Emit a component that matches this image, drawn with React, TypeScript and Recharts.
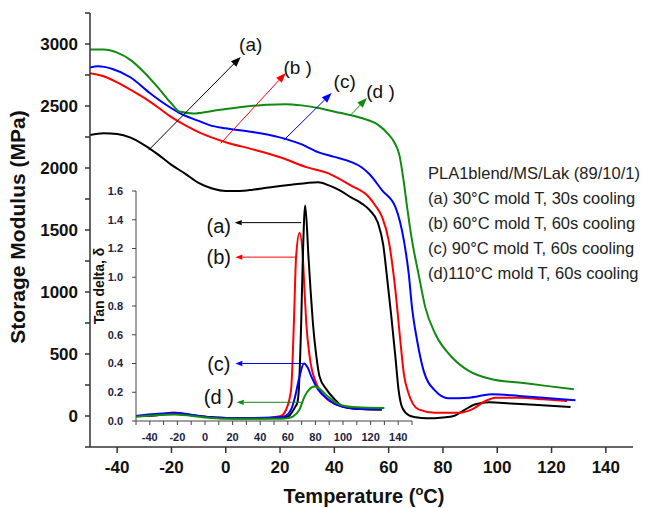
import React from 'react';
import { LineChart, Line, XAxis, YAxis, ReferenceLine, ReferenceDot } from 'recharts';

// storage modulus (MPa) vs temperature (°C)
const tempA = [-50, -45, -40, -35, -30, -25, -20, -15, -10, -5, 0, 5, 10, 15, 20, 25, 30, 34, 38, 42, 46, 50, 53, 56, 58, 59.5, 61, 62.5, 63.7, 65, 67.5, 70, 74, 80, 84, 88, 92, 97, 105, 115, 127];
const modA = [2265, 2280, 2275, 2245, 2185, 2110, 2025, 1955, 1880, 1835, 1815, 1815, 1825, 1840, 1855, 1868, 1880, 1885, 1860, 1820, 1765, 1715, 1660, 1560, 1380, 1100, 800, 472, 202, 67, 5, -10, -19, -12, 0, 50, 95, 110, 100, 88, 73];

const tempB = [-50, -45, -40, -35, -30, -25, -20, -15, -10, -5, 0, 10, 20, 30, 38, 46, 52.7, 55, 57.6, 60, 62.5, 64.3, 65.6, 67.4, 71, 77, 86, 90.7, 95.7, 99.3, 108, 117, 125.7];
const modB = [2765, 2740, 2690, 2630, 2565, 2490, 2410, 2345, 2290, 2245, 2208, 2150, 2087, 2005, 1955, 1860, 1766, 1700, 1604, 1416, 1011, 607, 340, 178, 54, 27, 27, 54, 121, 148, 148, 135, 121];

const tempC = [-50, -47, -42, -35, -28, -22, -17, -10, -6, 0, 10, 19.5, 28, 34, 40, 46, 50, 52.7, 57.6, 62.5, 65.6, 67.4, 68.6, 70.5, 72.9, 77.2, 82, 89.5, 98, 108, 118, 128.8];
const modC = [2810, 2820, 2800, 2730, 2605, 2510, 2443, 2380, 2346, 2320, 2290, 2249, 2190, 2128, 2090, 2050, 2006, 1955, 1820, 1685, 1416, 1146, 876, 607, 364, 202, 143, 148, 175, 162, 145, 127];

const tempD = [-50, -45, -40, -35, -30, -25, -20, -17, -12, -5, 5, 15, 22, 28, 34, 42, 50, 56, 60, 62, 64, 65.5, 66.8, 68.6, 71, 73.5, 77.2, 83.4, 89.5, 98, 108, 118, 128.2];
const modD = [2955, 2955, 2930, 2870, 2770, 2650, 2520, 2455, 2440, 2460, 2490, 2510, 2515, 2505, 2484, 2445, 2403, 2350, 2270, 2210, 2100, 1900, 1685, 1416, 1146, 876, 661, 472, 364, 297, 270, 243, 216];

// tan delta (inset)
const tanTA = [-50, -35, -22, -10, 0, 10, 20, 40, 50, 55, 60, 63, 65.5, 67, 68, 69.7, 70.9, 72.6, 75, 76.5, 78.2, 80.7, 83, 88, 94, 100, 110, 128];
const tanA = [0.035, 0.04, 0.055, 0.04, 0.03, 0.022, 0.02, 0.02, 0.022, 0.025, 0.03, 0.06, 0.1, 0.13, 0.22, 0.68, 1.14, 1.5, 1.14, 0.91, 0.68, 0.45, 0.31, 0.22, 0.15, 0.1, 0.085, 0.08];

const tanTB = [-50, -35, -22, -10, 0, 20, 45, 52, 55, 58.8, 62.4, 64.4, 66, 68.5, 70.9, 72.1, 73.4, 75.8, 80.7, 86.7, 96.5, 110, 128];
const tanB = [0.035, 0.04, 0.06, 0.04, 0.03, 0.02, 0.02, 0.03, 0.035, 0.08, 0.22, 0.68, 1.14, 1.31, 1.14, 0.91, 0.68, 0.45, 0.26, 0.17, 0.11, 0.085, 0.08];

const tanTC = [-50, -22, 0, 20, 50, 57, 62.4, 65.3, 68.5, 71.7, 74.5, 77, 81.9, 89.2, 99, 110, 128];
const tanC = [0.035, 0.055, 0.03, 0.02, 0.025, 0.03, 0.08, 0.17, 0.31, 0.4, 0.37, 0.31, 0.22, 0.15, 0.1, 0.085, 0.08];

const tanTD = [-50, -22, 0, 20, 55, 60, 63.6, 68.5, 72.1, 76, 79.4, 83, 89, 99, 110, 130];
const tanD = [0.03, 0.045, 0.025, 0.015, 0.015, 0.02, 0.03, 0.08, 0.17, 0.225, 0.24, 0.225, 0.17, 0.11, 0.095, 0.09];

const mainXTicks = [-40, -20, 0, 20, 40, 60, 80, 100, 120, 140];
const mainYTicks = [-250, 0, 250, 500, 750, 1000, 1250, 1500, 1750, 2000, 2250, 2500, 2750, 3000, 3250];
const insetXTicks = [-50, -40, -30, -20, -10, 0, 10, 20, 30, 40, 50, 60, 70, 80, 90, 100, 110, 120, 130, 140, 150];
const insetYTicks = [0, 0.2, 0.4, 0.6, 0.8, 1.0, 1.2, 1.4, 1.6];

const legendLines = [
  'PLA1blend/MS/Lak (89/10/1)',
  '(a) 30°C mold T, 30s cooling',
  '(b) 60°C mold T, 60s cooling',
  '(c) 90°C mold T, 60s cooling',
  '(d)110°C mold T, 60s cooling',
];

const BLACK = '#000000';
const RED = '#ff0000';
const BLUE = '#0000ff';
const GREEN = '#118a11';

// annotation arrows, in data units
const mainArrows = [
  { x1: -28.4, y1: 2144, x2: 5.5, y2: 2896, color: BLACK },
  { x1: -1.8, y1: 2200, x2: 22.1, y2: 2767, color: RED },
  { x1: 21.4, y1: 2225, x2: 39, y2: 2605, color: BLUE },
  { x1: 46, y1: 2427, x2: 52, y2: 2565, color: GREEN },
];
const mainLabels = [
  { x: 9.2, y: 2993, text: '(a)' },
  { x: 26.5, y: 2807, text: '(b )' },
  { x: 43.8, y: 2694, text: '(c)' },
  { x: 57, y: 2613, text: '(d )' },
];
const insetArrows = [
  { x1: 69.7, y1: 1.38, x2: 21.5, y2: 1.38, color: BLACK },
  { x1: 66, y1: 1.14, x2: 22, y2: 1.14, color: RED },
  { x1: 71.2, y1: 0.4, x2: 22, y2: 0.4, color: BLUE },
  { x1: 69.7, y1: 0.13, x2: 23, y2: 0.13, color: GREEN },
];
const insetLabels = [
  { x: 10, y: 1.36, text: '(a)' },
  { x: 10, y: 1.14, text: '(b)' },
  { x: 10, y: 0.4, text: '(c)' },
  { x: 10, y: 0.165, text: '(d )' },
];

const zip = (xs: number[], ys: number[]) => xs.map((t, i) => ({ t, v: ys[i] }));

const FONT = '"Liberation Sans", Arial, sans-serif';

const arrow = (color: string, head: number) => (p: any) => {
  const { x1, y1, x2, y2 } = p;
  const a = Math.atan2(y2 - y1, x2 - x1);
  const bx = x2 - head * Math.cos(a);
  const by = y2 - head * Math.sin(a);
  const w = head * 0.38;
  const pts = `${x2},${y2} ${bx + w * Math.sin(a)},${by - w * Math.cos(a)} ${bx - w * Math.sin(a)},${by + w * Math.cos(a)}`;
  return (
    <g>
      <line x1={x1} y1={y1} x2={bx} y2={by} stroke={color} strokeWidth={1} />
      <polygon points={pts} fill={color} />
    </g>
  );
};

const label = (text: string, size: number) => (p: any) => (
  <text x={p.cx} y={p.cy} textAnchor="middle" dominantBaseline="central" fontSize={size} fill="#111" fontFamily={FONT}>
    {text}
  </text>
);

export default function App() {
  return (
    <div style={{ position: 'absolute', left: 0, top: 0, width: 650, height: 508, background: '#fff', fontFamily: FONT }}>
      <div style={{ position: 'absolute', left: 0, top: 0 }}>
        <LineChart width={650} height={508} margin={{ top: 13, right: 17, left: 0, bottom: 31 }}>
          <XAxis
            type="number"
            dataKey="t"
            domain={[-50, 150]}
            ticks={mainXTicks}
            allowDataOverflow
            height={30}
            tickSize={6}
            tickMargin={8}
            stroke="#333"
            strokeWidth={1.5}
            tick={{ fontSize: 17, fontWeight: 'bold', fill: '#111', fontFamily: FONT }}
          />
          <YAxis
            type="number"
            domain={[-250, 3250]}
            ticks={mainYTicks}
            allowDataOverflow
            width={90}
            tickSize={5}
            tickMargin={7}
            stroke="#333"
            strokeWidth={1.5}
            tickFormatter={(v: number) => (v % 500 === 0 ? String(v) : '')}
            tick={{ fontSize: 17, fontWeight: 'bold', fill: '#111', fontFamily: FONT }}
          />
          <Line data={zip(tempA, modA)} dataKey="v" type="monotone" stroke={BLACK} strokeWidth={2} dot={false} isAnimationActive={false} />
          <Line data={zip(tempB, modB)} dataKey="v" type="monotone" stroke={RED} strokeWidth={2} dot={false} isAnimationActive={false} />
          <Line data={zip(tempC, modC)} dataKey="v" type="monotone" stroke={BLUE} strokeWidth={2} dot={false} isAnimationActive={false} />
          <Line data={zip(tempD, modD)} dataKey="v" type="monotone" stroke={GREEN} strokeWidth={2} dot={false} isAnimationActive={false} />
          {mainArrows.map((a, i) => (
            <ReferenceLine
              key={'ma' + i}
              segment={[{ x: a.x1, y: a.y1 }, { x: a.x2, y: a.y2 }]}
              stroke={a.color}
              ifOverflow="visible"
              shape={arrow(a.color, 10)}
            />
          ))}
          {mainLabels.map((l, i) => (
            <ReferenceDot key={'ml' + i} x={l.x} y={l.y} r={0} ifOverflow="visible" shape={label(l.text, 19)} />
          ))}
        </LineChart>
      </div>
      <div style={{ position: 'absolute', left: 0, top: 0 }}>
        <LineChart width={650} height={508} margin={{ top: 191, right: 238, left: 100, bottom: 63 }}>
          <XAxis
            type="number"
            dataKey="t"
            domain={[-50, 150]}
            ticks={insetXTicks}
            allowDataOverflow
            height={24}
            tickSize={4}
            tickMargin={8}
            stroke="#444"
            tickFormatter={(v: number) => (v % 20 === 0 ? String(v) : '')}
            tick={{ fontSize: 11, fontWeight: 'bold', fill: '#1c2340', fontFamily: FONT }}
          />
          <YAxis
            type="number"
            domain={[0, 1.6]}
            ticks={insetYTicks}
            allowDataOverflow
            width={36}
            tickSize={4}
            tickMargin={9}
            stroke="#444"
            tickFormatter={(v: number) => v.toFixed(1)}
            tick={{ fontSize: 11, fontWeight: 'bold', fill: '#1c2340', fontFamily: FONT }}
          />
          <Line data={zip(tanTB, tanB)} dataKey="v" type="monotone" stroke={RED} strokeWidth={2} dot={false} isAnimationActive={false} />
          <Line data={zip(tanTA, tanA)} dataKey="v" type="monotone" stroke={BLACK} strokeWidth={2} dot={false} isAnimationActive={false} />
          <Line data={zip(tanTC, tanC)} dataKey="v" type="monotone" stroke={BLUE} strokeWidth={2} dot={false} isAnimationActive={false} />
          <Line data={zip(tanTD, tanD)} dataKey="v" type="monotone" stroke={GREEN} strokeWidth={2} dot={false} isAnimationActive={false} />
          {insetArrows.map((a, i) => (
            <ReferenceLine
              key={'ia' + i}
              segment={[{ x: a.x1, y: a.y1 }, { x: a.x2, y: a.y2 }]}
              stroke={a.color}
              ifOverflow="visible"
              shape={arrow(a.color, 7)}
            />
          ))}
          {insetLabels.map((l, i) => (
            <ReferenceDot key={'il' + i} x={l.x} y={l.y} r={0} ifOverflow="visible" shape={label(l.text, 20)} />
          ))}
        </LineChart>
      </div>
      <svg width={650} height={508} style={{ position: 'absolute', left: 0, top: 0, pointerEvents: 'none' }}>
        <text x={364} y={503} textAnchor="middle" fontSize={20} fontWeight="bold" fill="#111" fontFamily={FONT}>
          Temperature (<tspan dy={-8} fontSize={13}>o</tspan><tspan dy={8}>C)</tspan>
        </text>
        <text
          x={0}
          y={0}
          transform="translate(25,227) rotate(-90)"
          textAnchor="middle"
          fontSize={21}
          fontWeight="bold"
          fill="#111"
          fontFamily={FONT}
        >
          Storage Modulus (MPa)
        </text>
        <text
          x={0}
          y={0}
          transform="translate(104,286) rotate(-90)"
          textAnchor="middle"
          fontSize={14}
          fontWeight="bold"
          fill="#111"
          fontFamily={FONT}
        >
          Tan delta, δ
        </text>
        {legendLines.map((s, i) => (
          <text key={s} x={428} y={179 + i * 25} fontSize={16.5} fill="#222" fontFamily={FONT}>
            {s}
          </text>
        ))}
      </svg>
    </div>
  );
}
